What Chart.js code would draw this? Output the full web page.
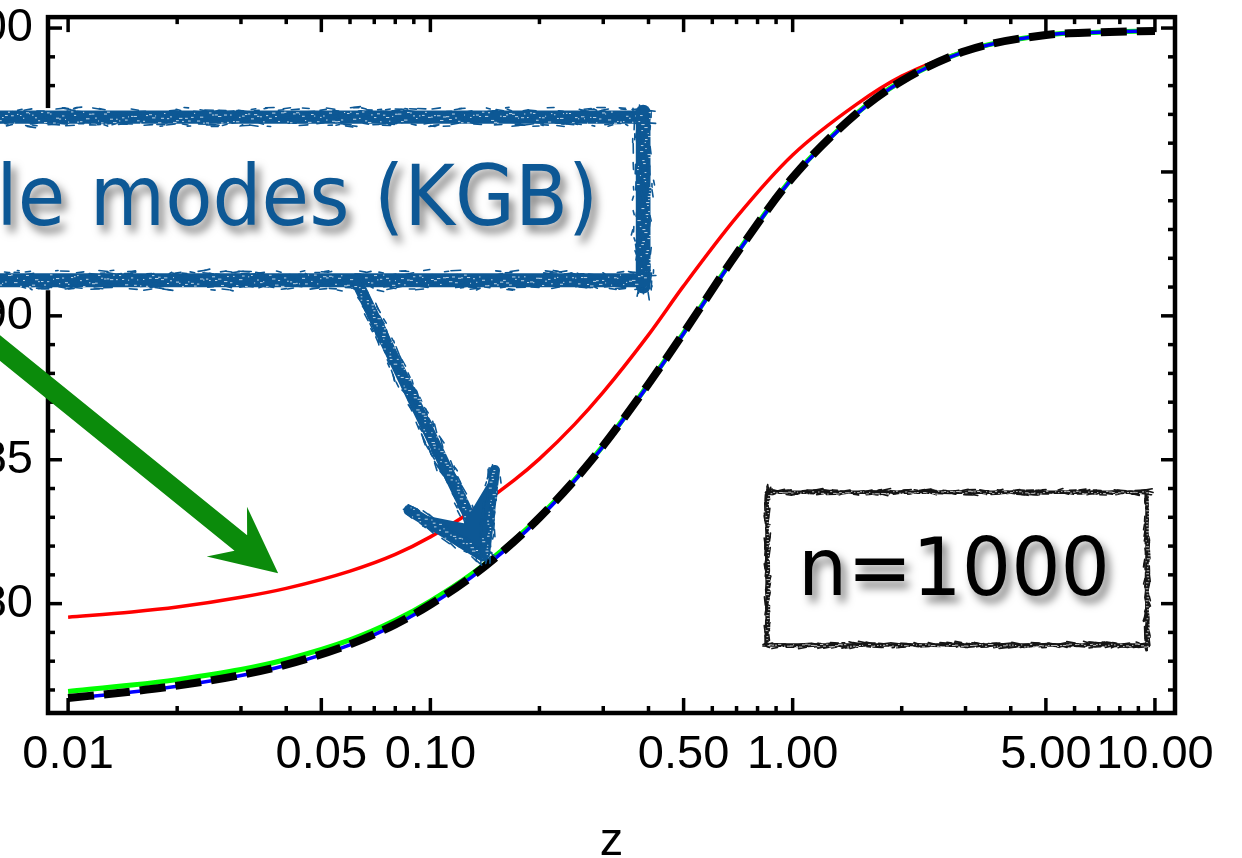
<!DOCTYPE html>
<html>
<head>
<meta charset="utf-8">
<title>n=1000</title>
<script src="https://cdn.jsdelivr.net/npm/chart.js@4.4.0/dist/chart.umd.min.js"></script>
<style>
  html, body { margin: 0; padding: 0; background: #fff; overflow: hidden; width: 1242px; height: 858px; }
  #wrap { position: absolute; left: -40px; top: 0; width: 1282px; height: 880px; }
</style>
</head>
<body>
<div id="wrap"><canvas id="chart" width="1282" height="880"></canvas></div>
<script>
// Values (z on a log axis)
const zValues = [0.01, 0.015, 0.02, 0.03, 0.04, 0.06, 0.08, 0.1, 0.13, 0.17, 0.2, 0.25, 0.3, 0.4, 0.5, 0.7, 1, 1.5, 2, 3, 5, 7, 10];
const redSeries = [79.53, 79.71, 79.88, 80.22, 80.53, 81.13, 81.71, 82.32, 83.21, 84.28, 85.03, 86.23, 87.35, 89.34, 91.04, 93.43, 95.59, 97.35, 98.33, 99.20, 99.75, 99.86, 99.92];
const greenSeries = [76.95, 77.17, 77.36, 77.71, 78.06, 78.74, 79.42, 80.09, 81.03, 82.20, 83.02, 84.30, 85.49, 87.63, 89.41, 92.16, 94.81, 97.03, 98.16, 99.20, 99.76, 99.85, 99.90];
const blueSeries = [76.70, 76.93, 77.13, 77.50, 77.86, 78.57, 79.26, 79.95, 80.92, 82.13, 82.97, 84.27, 85.47, 87.61, 89.39, 92.14, 94.79, 97.01, 98.15, 99.19, 99.76, 99.85, 99.90];
const blackSeries = [76.72, 76.95, 77.15, 77.52, 77.88, 78.59, 79.28, 79.97, 80.94, 82.15, 82.99, 84.29, 85.49, 87.63, 89.41, 92.16, 94.81, 97.03, 98.16, 99.20, 99.76, 99.85, 99.90];

// Axis ticks
const xMajorTicks = [0.01, 0.05, 0.1, 0.5, 1, 5, 10];
const xMinorTicks = [0.02, 0.03, 0.04, 0.06, 0.07, 0.08, 0.09, 0.2, 0.3, 0.4, 0.6, 0.7, 0.8, 0.9, 2, 3, 4, 6, 7, 8, 9];
const yMajorTicks = [80, 85, 90, 95, 100];
const yMinorTicks = [77, 78, 79, 81, 82, 83, 84, 86, 87, 88, 89, 91, 92, 93, 94, 96, 97, 98, 99];

// Annotation texts and anchors (data coordinates)
const kgbText = 'le modes (KGB)';
const nText = 'n=1000';
const kgbBox = { zRight: 0.412, top: 97.22, bottom: 90.89 };
const kgbArrow = { from: [0.0632, 90.96], to: [0.1431, 81.44] };
const greenArrow = { from: [0.00609, 89.16], to: [0.038, 81.06] };
const nBox = { zLeft: 0.85, zRight: 9.51, top: 83.87, bottom: 78.56 };

const FONT = "'Liberation Sans', Arial, Helvetica, sans-serif";
const NOTE_FONT = "'DejaVu Sans', Verdana, sans-serif";
const BLUE = '#0d5895';

function toPoints(values) {
  return zValues.map((z, i) => ({ x: z, y: values[i] }));
}

// small deterministic generator for the hand-drawn texture
let seed = 4217;
function rand() {
  seed = (seed * 16807) % 2147483647;
  return seed / 2147483647;
}

function roughBand(ctx, x1, y1, x2, y2, w, color) {
  const len = Math.hypot(x2 - x1, y2 - y1);
  const ux = (x2 - x1) / len, uy = (y2 - y1) / len;
  const nx = -uy, ny = ux;
  ctx.save();
  ctx.lineCap = 'round';
  ctx.strokeStyle = color;
  ctx.lineWidth = w * 0.7;
  ctx.beginPath();
  ctx.moveTo(x1, y1);
  ctx.lineTo(x2, y2);
  ctx.stroke();
  ctx.lineWidth = 1.6;
  for (let s = -w / 3; s < len + w / 3; s += 1.6) {
    const o = (rand() - 0.5) * w;
    const l = 3 + rand() * 6;
    const bx = x1 + ux * s + nx * o, by = y1 + uy * s + ny * o;
    ctx.beginPath();
    ctx.moveTo(bx, by);
    ctx.lineTo(bx + ux * l + (rand() - 0.5) * 3, by + uy * l + (rand() - 0.5) * 3);
    ctx.stroke();
  }
  ctx.fillStyle = 'rgba(255,255,255,0.75)';
  for (let s = 0; s < len; s += 3) {
    const o = (rand() - 0.5) * w * 0.6;
    ctx.fillRect(x1 + ux * s + nx * o, y1 + uy * s + ny * o, 1 + rand() * 2.5, 1);
  }
  ctx.restore();
}

function shadowText(ctx, text, font, color, xRight, baseline, width) {
  ctx.save();
  ctx.font = font;
  const w = ctx.measureText(text).width;
  const sx = width / w;
  ctx.translate(xRight - width, baseline);
  ctx.scale(sx, 1);
  ctx.shadowColor = 'rgba(0,0,0,0.5)';
  ctx.shadowBlur = 8;
  ctx.shadowOffsetX = 5;
  ctx.shadowOffsetY = 7;
  ctx.fillStyle = color;
  ctx.textBaseline = 'alphabetic';
  ctx.textAlign = 'left';
  ctx.fillText(text, 0, 0);
  ctx.restore();
}

// Frame with inward ticks on all four sides
const frameTicks = {
  id: 'frameTicks',
  afterDraw(chart) {
    const { ctx, chartArea: a, scales: { x, y } } = chart;
    ctx.save();
    ctx.strokeStyle = '#000';
    ctx.lineWidth = 3.5;
    const tick = (x1, y1, x2, y2) => {
      ctx.beginPath();
      ctx.moveTo(x1, y1);
      ctx.lineTo(x2, y2);
      ctx.stroke();
    };
    xMajorTicks.forEach(v => {
      const px = x.getPixelForValue(v);
      tick(px, a.bottom, px, a.bottom - 15);
      tick(px, a.top, px, a.top + 15);
    });
    xMinorTicks.forEach(v => {
      const px = x.getPixelForValue(v);
      tick(px, a.bottom, px, a.bottom - 7);
      tick(px, a.top, px, a.top + 7);
    });
    yMajorTicks.forEach(v => {
      const py = y.getPixelForValue(v);
      tick(a.left, py, a.left + 14, py);
      tick(a.right, py, a.right - 14, py);
    });
    yMinorTicks.forEach(v => {
      const py = y.getPixelForValue(v);
      tick(a.left, py, a.left + 7, py);
      tick(a.right, py, a.right - 7, py);
    });
    ctx.lineWidth = 4.5;
    ctx.strokeRect(a.left, a.top, a.right - a.left, a.bottom - a.top);
    ctx.restore();
  }
};

// Call-outs drawn over the plot
const notes = {
  id: 'notes',
  afterDraw(chart) {
    const { ctx, scales: { x, y } } = chart;
    seed = 4217;

    // green arrow
    const gs = [x.getPixelForValue(greenArrow.from[0]), y.getPixelForValue(greenArrow.from[1])];
    const gt = [x.getPixelForValue(greenArrow.to[0]), y.getPixelForValue(greenArrow.to[1])];
    const glen = Math.hypot(gt[0] - gs[0], gt[1] - gs[1]);
    const ux = (gt[0] - gs[0]) / glen, uy = (gt[1] - gs[1]) / glen;
    const nx = -uy, ny = ux;
    const hw = 10, hb = 32;
    const nb = [gt[0] - ux * 48, gt[1] - uy * 48];
    const bb = [gt[0] - ux * 66, gt[1] - uy * 66];
    ctx.save();
    ctx.fillStyle = '#0b8b0b';
    ctx.beginPath();
    ctx.moveTo(gs[0] + nx * hw, gs[1] + ny * hw);
    ctx.lineTo(nb[0] + nx * hw, nb[1] + ny * hw);
    ctx.lineTo(bb[0] + nx * hb, bb[1] + ny * hb);
    ctx.lineTo(gt[0], gt[1]);
    ctx.lineTo(bb[0] - nx * hb, bb[1] - ny * hb);
    ctx.lineTo(nb[0] - nx * hw, nb[1] - ny * hw);
    ctx.lineTo(gs[0] - nx * hw, gs[1] - ny * hw);
    ctx.closePath();
    ctx.fill();
    ctx.restore();

    // KGB box
    const bRight = x.getPixelForValue(kgbBox.zRight);
    const bTop = y.getPixelForValue(kgbBox.top);
    const bBottom = y.getPixelForValue(kgbBox.bottom);
    const bLeft = 0;
    ctx.save();
    ctx.fillStyle = '#fff';
    ctx.fillRect(bLeft, bTop, bRight - bLeft, bBottom - bTop);
    ctx.restore();
    roughBand(ctx, bLeft, bTop + 9, bRight - 9, bTop + 9, 19, BLUE);
    roughBand(ctx, bRight - 10, bTop + 4, bRight - 10, bBottom - 4, 21, BLUE);
    roughBand(ctx, bLeft, bBottom - 10, bRight - 9, bBottom - 10, 20, BLUE);
    shadowText(ctx, kgbText, '83px ' + NOTE_FONT, BLUE, bRight - 55, bTop + 117, 602);

    // KGB arrow
    const as = [x.getPixelForValue(kgbArrow.from[0]), y.getPixelForValue(kgbArrow.from[1])];
    const at = [x.getPixelForValue(kgbArrow.to[0]), y.getPixelForValue(kgbArrow.to[1])];
    const junction = [at[0] - 17, at[1] - 45];
    roughBand(ctx, as[0], as[1] - 4, junction[0], junction[1], 17, BLUE);
    const leftBarb = [at[0] - 78, at[1] - 52];
    const rightBarb = [at[0] + 8, at[1] - 92];
    ctx.save();
    ctx.fillStyle = BLUE;
    ctx.beginPath();
    ctx.moveTo(at[0], at[1]);
    ctx.lineTo(leftBarb[0] + 10, leftBarb[1] + 4);
    ctx.lineTo(junction[0] - 6, junction[1] + 6);
    ctx.lineTo(rightBarb[0] - 4, rightBarb[1] + 8);
    ctx.closePath();
    ctx.fill();
    ctx.restore();
    roughBand(ctx, leftBarb[0], leftBarb[1], at[0] - 4, at[1] - 6, 15, BLUE);
    roughBand(ctx, rightBarb[0], rightBarb[1], at[0] - 2, at[1] - 8, 15, BLUE);

    // n=1000 box
    const nl = x.getPixelForValue(nBox.zLeft), nr = x.getPixelForValue(nBox.zRight);
    const nt = y.getPixelForValue(nBox.top), nbm = y.getPixelForValue(nBox.bottom);
    roughBand(ctx, nl, nt, nr, nt, 5, '#151515');
    roughBand(ctx, nr, nt, nr, nbm, 5, '#151515');
    roughBand(ctx, nr, nbm, nl, nbm, 5, '#151515');
    roughBand(ctx, nl, nbm, nl, nt, 5, '#151515');
    shadowText(ctx, nText, '80px ' + NOTE_FONT, '#000', nr - 37, nt + 103, 312);
  }
};

new Chart(document.getElementById('chart'), {
  type: 'line',
  data: {
    datasets: [
      { label: 'black', data: toPoints(blackSeries), borderColor: '#000000', borderWidth: 8, borderDash: [26, 10] },
      { label: 'blue', data: toPoints(blueSeries), borderColor: '#0000ff', borderWidth: 3.5 },
      { label: 'green', data: toPoints(greenSeries), borderColor: '#00ff00', borderWidth: 5 },
      { label: 'red', data: toPoints(redSeries), borderColor: '#ff0000', borderWidth: 3.5 }
    ]
  },
  options: {
    responsive: false,
    animation: false,
    devicePixelRatio: 1,
    layout: { padding: { top: 0, right: 67, left: 0, bottom: 0 } },
    elements: {
      point: { radius: 0 },
      line: { cubicInterpolationMode: 'monotone', fill: false, borderCapStyle: 'butt' }
    },
    plugins: { legend: { display: false }, tooltip: { enabled: false } },
    scales: {
      x: {
        type: 'logarithmic',
        min: 0.0088,
        max: 11.36,
        grid: { display: false, drawTicks: false },
        border: { display: false },
        afterBuildTicks: s => { s.ticks = xMajorTicks.map(v => ({ value: v })); },
        afterFit: s => { s.height = 167; },
        ticks: {
          autoSkip: false,
          maxRotation: 0,
          padding: 14,
          color: '#000',
          font: { family: FONT, size: 47 },
          callback: v => Number(v).toFixed(2)
        },
        title: {
          display: true,
          text: 'z',
          color: '#000',
          font: { family: FONT, size: 47 },
          padding: { top: 0, bottom: 10 }
        }
      },
      y: {
        type: 'linear',
        min: 76.2,
        max: 100.38,
        grid: { display: false, drawTicks: false },
        border: { display: false },
        afterBuildTicks: s => { s.ticks = yMajorTicks.map(v => ({ value: v })); },
        afterFit: s => { s.width = 88; },
        ticks: {
          autoSkip: false,
          padding: 15,
          color: '#000',
          font: { family: FONT, size: 47, lineHeight: 0.09 },
          callback: v => String(v)
        }
      }
    }
  },
  plugins: [frameTicks, notes]
});
</script>
</body>
</html>
